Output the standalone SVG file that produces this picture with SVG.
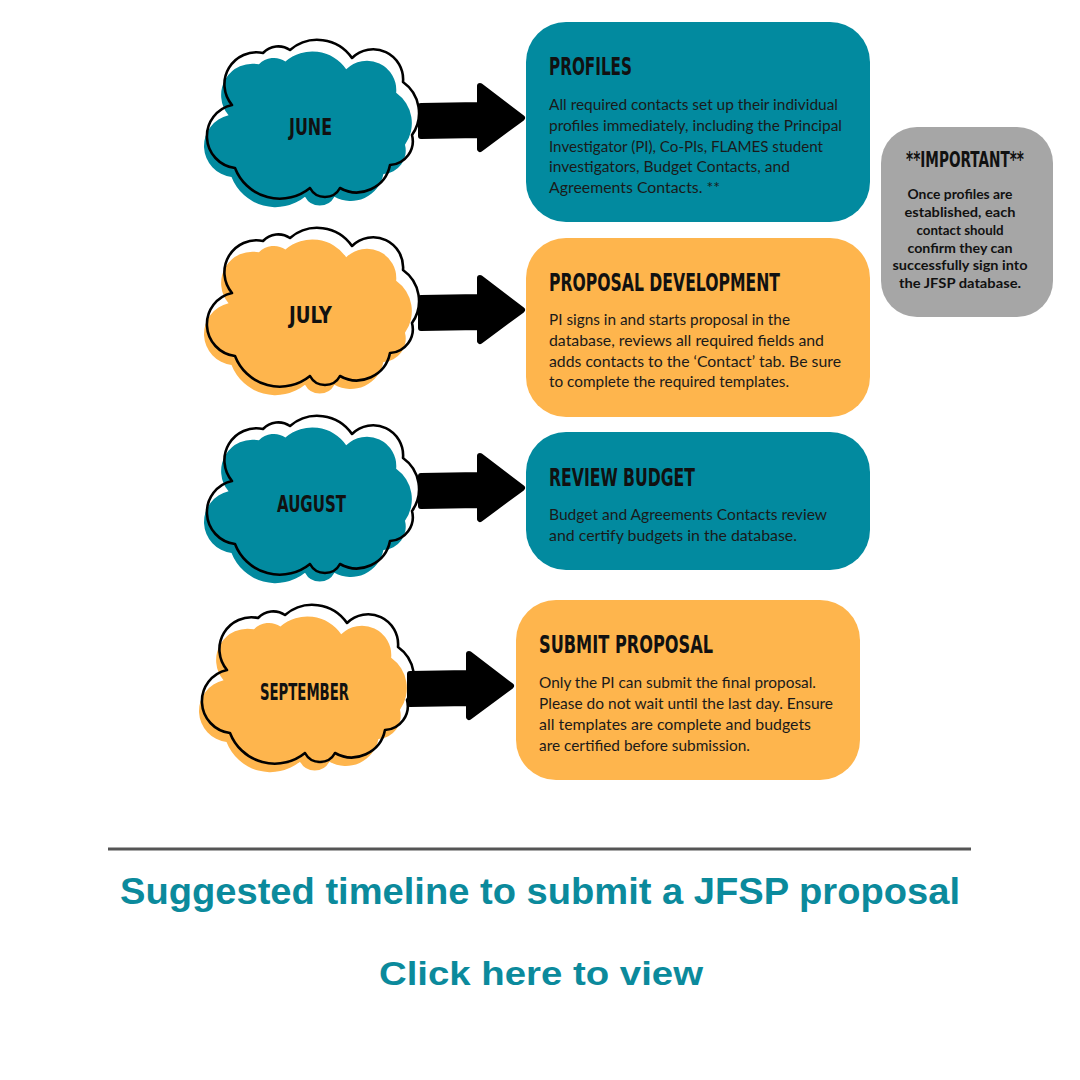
<svg xmlns="http://www.w3.org/2000/svg" xmlns:xlink="http://www.w3.org/1999/xlink" width="1080" height="1080" viewBox="0 0 1080 1080">
<style>
.teal{fill:#028a9f}
.orange{fill:#feb54d}
.gray{fill:#a6a6a6}
.outline{fill:none;stroke:#000;stroke-width:2.6;stroke-linejoin:round}
.hand{font-family:"DejaVu Sans Condensed","DejaVu Sans",sans-serif;font-weight:bold;fill:#111}
.month{font-size:23px}
.title{font-size:24px}
.body{font-family:Lato,"Open Sans",sans-serif;font-size:15px;fill:#1a1a1a}
.imp{font-family:Lato,"Open Sans",sans-serif;font-size:12.5px;font-weight:bold;fill:#111;text-anchor:middle}
.arrow{fill:#000;stroke:#000;stroke-width:6;stroke-linejoin:round}
.foot{font-family:"Liberation Sans",Arial,sans-serif;font-weight:bold;fill:#0b8a9c;text-anchor:middle}
</style>
<defs>
<path id="cloud" d="M-79,-16 A32,32 0 0 1 -48,-68 A21,21 0 0 1 -21,-71 A42,42 0 0 1 41,-63 A30,30 0 0 1 92,-39 A38,38 0 0 1 101,14 A24,24 0 0 1 79,44 A34,34 0 0 1 29,67 A17,17 0 0 1 -1,67 A48,48 0 0 1 -76,47 A32,32 0 0 1 -79,-16 Z"/>
<path id="arr" d="M-104,-12 L-45,-13 L-45,-32 L-3,0 L-45,31 L-45,17 L-104,18 Z"/>
</defs>
<rect width="1080" height="1080" fill="#fff"/>

<g id="connectors">
<use xlink:href="#arr" class="arrow" transform="translate(525,118)"/>
<use xlink:href="#arr" class="arrow" transform="translate(525,310)"/>
<use xlink:href="#arr" class="arrow" transform="translate(525,488)"/>
<use xlink:href="#arr" class="arrow" transform="translate(514,686)"/>
</g>

<g id="june">
<use xlink:href="#cloud" class="teal" transform="translate(306,131) scale(0.98)"/>
<use xlink:href="#cloud" class="outline" transform="translate(311,121)"/>
<text class="hand month" x="289" y="135" textLength="43" lengthAdjust="spacingAndGlyphs">JUNE</text>
</g>
<g id="july">
<use xlink:href="#cloud" class="orange" transform="translate(306,319) scale(0.98)"/>
<use xlink:href="#cloud" class="outline" transform="translate(311,309)"/>
<text class="hand month" x="289" y="323" textLength="43" lengthAdjust="spacingAndGlyphs">JULY</text>
</g>
<g id="august">
<use xlink:href="#cloud" class="teal" transform="translate(306,507) scale(0.98)"/>
<use xlink:href="#cloud" class="outline" transform="translate(311,497)"/>
<text class="hand month" x="277" y="512" textLength="69" lengthAdjust="spacingAndGlyphs">AUGUST</text>
</g>
<g id="september">
<use xlink:href="#cloud" class="orange" transform="translate(301,696) scale(0.98)"/>
<use xlink:href="#cloud" class="outline" transform="translate(306,686)"/>
<text class="hand month" x="260" y="700" textLength="89" lengthAdjust="spacingAndGlyphs">SEPTEMBER</text>
</g>

<g id="profiles">
<rect class="teal" x="526" y="22" width="344" height="200" rx="40"/>
<text class="hand title" x="549" y="75" textLength="83" lengthAdjust="spacingAndGlyphs">PROFILES</text>
<text class="body" x="549" y="110" textLength="289" lengthAdjust="spacingAndGlyphs">All required contacts set up their individual</text>
<text class="body" x="549" y="131" textLength="293" lengthAdjust="spacingAndGlyphs">profiles immediately, including the Principal</text>
<text class="body" x="549" y="151.5" textLength="274" lengthAdjust="spacingAndGlyphs">Investigator (PI), Co-PIs, FLAMES student</text>
<text class="body" x="549" y="172" textLength="241" lengthAdjust="spacingAndGlyphs">investigators, Budget Contacts, and</text>
<text class="body" x="549" y="193" textLength="171" lengthAdjust="spacingAndGlyphs">Agreements Contacts. **</text>
</g>

<g id="important">
<rect class="gray" x="881" y="127" width="172" height="190" rx="36"/>
<text class="hand" x="906" y="167" font-size="21" textLength="118" lengthAdjust="spacingAndGlyphs">**IMPORTANT**</text>
<text class="imp" x="960" y="199" textLength="105" lengthAdjust="spacingAndGlyphs">Once profiles are</text>
<text class="imp" x="960" y="217" textLength="111" lengthAdjust="spacingAndGlyphs">established, each</text>
<text class="imp" x="960" y="234.5" textLength="87" lengthAdjust="spacingAndGlyphs">contact should</text>
<text class="imp" x="960" y="252.5" textLength="105" lengthAdjust="spacingAndGlyphs">confirm they can</text>
<text class="imp" x="960" y="270" textLength="135" lengthAdjust="spacingAndGlyphs">successfully sign into</text>
<text class="imp" x="960" y="288" textLength="122" lengthAdjust="spacingAndGlyphs">the JFSP database.</text>
</g>

<g id="proposal-development">
<rect class="orange" x="526" y="238" width="344" height="179" rx="40"/>
<text class="hand title" x="549" y="291" textLength="231" lengthAdjust="spacingAndGlyphs">PROPOSAL DEVELOPMENT</text>
<text class="body" x="549" y="325" textLength="241" lengthAdjust="spacingAndGlyphs">PI signs in and starts proposal in the</text>
<text class="body" x="549" y="346" textLength="275" lengthAdjust="spacingAndGlyphs">database, reviews all required fields and</text>
<text class="body" x="549" y="366.5" textLength="292" lengthAdjust="spacingAndGlyphs">adds contacts to the ‘Contact’ tab. Be sure</text>
<text class="body" x="549" y="387" textLength="240" lengthAdjust="spacingAndGlyphs">to complete the required templates.</text>
</g>

<g id="review-budget">
<rect class="teal" x="526" y="432" width="344" height="138" rx="40"/>
<text class="hand title" x="549" y="486" textLength="146" lengthAdjust="spacingAndGlyphs">REVIEW BUDGET</text>
<text class="body" x="549" y="520" textLength="278" lengthAdjust="spacingAndGlyphs">Budget and Agreements Contacts review</text>
<text class="body" x="549" y="540.5" textLength="248" lengthAdjust="spacingAndGlyphs">and certify budgets in the database.</text>
</g>

<g id="submit-proposal">
<rect class="orange" x="516" y="600" width="344" height="180" rx="40"/>
<text class="hand title" x="539" y="653" textLength="174" lengthAdjust="spacingAndGlyphs">SUBMIT PROPOSAL</text>
<text class="body" x="539" y="688" textLength="277" lengthAdjust="spacingAndGlyphs">Only the PI can submit the final proposal.</text>
<text class="body" x="539" y="709" textLength="294" lengthAdjust="spacingAndGlyphs">Please do not wait until the last day. Ensure</text>
<text class="body" x="539" y="729.5" textLength="272" lengthAdjust="spacingAndGlyphs">all templates are complete and budgets</text>
<text class="body" x="539" y="750.5" textLength="211" lengthAdjust="spacingAndGlyphs">are certified before submission.</text>
</g>

<g id="footer">
<line x1="108" y1="849" x2="971" y2="849" stroke="#555" stroke-width="3"/>
<text class="foot" x="540" y="904" font-size="36" textLength="840" lengthAdjust="spacingAndGlyphs">Suggested timeline to submit a JFSP proposal</text>
<text class="foot" x="541" y="985" font-size="34" textLength="324" lengthAdjust="spacingAndGlyphs">Click here to view</text>
</g>
</svg>
